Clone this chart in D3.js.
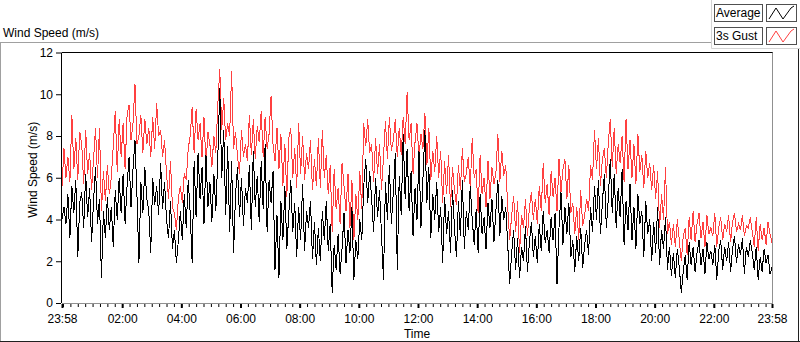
<!DOCTYPE html>
<html>
<head>
<meta charset="utf-8">
<script src="https://cdn.jsdelivr.net/npm/d3@7"></script>
<style>
  body { margin: 0; background: #fff; }
  svg text { font-family: "Liberation Sans", Arial, sans-serif; font-size: 12px; fill: #000; }
</style>
</head>
<body>
<div id="chart"></div>
<script>
// series, one value every 4 minutes from 23:58 to 23:58 next day
const avg = [
  4.0, 4.6, 3.8, 5.2, 3.1, 5.6, 4.3, 5.9, 2.2, 4.8,
  5.3, 3.6, 6.2, 4.1, 5.5, 2.9, 4.9, 6.5, 3.8, 5.0,
  1.2, 4.4, 3.1, 5.1, 3.5, 4.6, 2.7, 5.4, 4.0, 6.0,
  4.3, 6.2, 3.8, 5.6, 7.0, 4.6, 6.4, 7.8, 5.2, 1.9,
  5.8, 4.3, 6.5, 5.0, 4.4, 2.4, 6.0, 4.7, 5.6, 4.2,
  6.7, 4.5, 5.8, 4.0, 3.1, 4.9, 2.6, 3.5, 1.9, 3.0,
  4.4, 3.0, 5.2, 3.6, 5.9, 4.3, 1.9, 6.8, 4.1, 7.2,
  5.0, 6.5, 3.8, 7.1, 4.6, 5.8, 3.9, 6.2, 4.4, 7.0,
  10.3, 6.0, 8.3, 4.2, 7.5, 3.4, 6.8, 2.4, 5.2, 6.5,
  4.1, 6.0, 3.7, 5.5, 4.8, 6.6, 3.5, 7.3, 4.6, 6.1,
  3.9, 6.8, 4.5, 7.6, 3.4, 5.9, 4.8, 6.3, 1.6, 4.2,
  1.2, 4.9, 3.0, 5.6, 2.6, 4.3, 5.9, 3.4, 4.8, 2.2,
  4.6, 3.0, 5.7, 2.5, 4.4, 3.6, 4.9, 2.1, 3.9, 1.8,
  3.6, 2.0, 4.4, 3.0, 4.9, 2.5, 3.8, 0.5, 2.8, 1.6,
  3.3, 1.4, 2.6, 4.3, 1.9, 3.5, 2.4, 4.6, 1.1, 3.0,
  2.1, 4.0, 3.0, 5.6, 6.9, 4.8, 6.3, 5.0, 3.4, 6.0,
  4.1, 5.4, 3.3, 1.1, 5.8, 4.0, 6.6, 3.8, 5.3, 7.2,
  1.6, 6.1, 4.2, 8.1, 5.0, 7.4, 4.4, 6.3, 3.2, 5.5,
  4.0, 7.3, 3.6, 5.9, 8.3, 4.8, 6.5, 3.1, 5.2, 4.0,
  5.8, 3.4, 4.6, 1.9, 5.1, 3.3, 4.4, 2.4, 5.4, 3.6,
  2.2, 4.9, 3.2, 5.9, 2.6, 4.4, 3.5, 5.6, 4.0, 2.8,
  4.5, 2.4, 5.2, 3.3, 4.1, 2.6, 4.8, 3.6, 5.0, 2.9,
  4.4, 5.9, 3.2, 5.1, 4.0, 4.6, 2.8, 0.9, 2.4, 3.5,
  1.6, 3.1, 1.2, 2.7, 2.0, 3.7, 1.5, 2.9, 3.9, 2.2,
  3.2, 1.9, 3.8, 2.5, 4.4, 2.9, 3.5, 2.4, 4.1, 3.0,
  4.3, 0.9, 3.6, 5.3, 2.8, 4.6, 3.3, 4.8, 2.2, 3.0,
  1.5, 3.2, 2.0, 3.6, 1.7, 2.8, 3.5, 2.3, 4.6, 3.4,
  5.6, 4.0, 5.9, 3.3, 4.8, 6.2, 3.6, 5.0, 6.9, 4.3,
  6.2, 3.6, 5.5, 4.1, 6.4, 2.8, 4.9, 3.5, 5.7, 3.0,
  4.6, 2.6, 5.2, 3.8, 4.4, 2.2, 4.9, 3.3, 4.0, 2.0,
  3.9, 2.4, 4.6, 1.8, 3.5, 2.6, 4.1, 1.6, 2.7, 1.3,
  2.4, 1.2, 2.6, 1.7, 0.5, 1.5, 2.3, 1.1, 2.9, 1.8,
  2.7, 1.5, 2.4, 3.0, 1.8, 2.6, 1.4, 2.9, 2.1, 2.5,
  1.8, 2.8, 1.1, 2.5, 3.0, 1.6, 2.7, 2.0, 2.9, 1.5,
  2.6, 3.2, 1.9, 2.8, 2.3, 3.1, 1.4, 2.7, 2.2, 3.0,
  2.4, 1.6, 2.7, 1.1, 2.2, 1.5, 2.6, 1.9, 2.3, 1.4,
  1.7
];

const gust = [
  5.6, 7.4, 6.0, 7.0, 5.8, 9.0, 6.4, 7.9, 5.9, 8.2,
  7.6, 5.7, 8.3, 6.2, 7.2, 5.4, 6.9, 8.4, 6.0, 8.4,
  4.4, 6.3, 4.9, 6.6, 5.2, 6.0, 7.5, 9.2, 6.3, 8.8,
  7.0, 8.6, 6.4, 9.0, 9.5, 7.8, 8.6, 10.5, 7.6, 8.0,
  9.0, 7.2, 8.8, 7.6, 8.4, 7.0, 8.9, 7.4, 9.6, 8.0,
  8.3, 7.0, 7.8, 6.2, 5.0, 6.8, 4.6, 4.3, 3.5, 5.0,
  5.6, 4.8, 6.2, 5.9, 7.4, 8.0, 9.4, 7.2, 9.3, 7.8,
  8.6, 7.0, 8.9, 6.6, 8.2, 7.6, 6.5, 8.0, 7.2, 9.5,
  11.2, 8.3, 9.8, 7.8, 8.6, 8.0, 11.1, 7.4, 8.2, 7.0,
  6.2, 8.3, 7.0, 7.6, 6.8, 9.0, 7.1, 8.8, 6.9, 8.5,
  7.7, 9.2, 7.0, 8.9, 7.4, 8.1, 9.9, 7.6, 6.8, 8.4,
  6.4, 8.1, 5.6, 7.6, 5.1, 7.9, 8.4, 6.0, 7.4, 5.5,
  8.6, 6.2, 8.0, 5.9, 7.2, 6.4, 7.8, 5.4, 6.9, 5.6,
  7.9, 5.5, 8.3, 6.0, 7.1, 5.2, 6.6, 3.4, 6.4, 4.5,
  5.5, 3.8, 6.7, 5.6, 4.4, 6.2, 3.6, 5.9, 3.0, 5.2,
  4.0, 6.3, 4.5, 8.6, 7.5, 8.8, 7.2, 7.6, 5.8, 7.9,
  6.2, 7.6, 5.4, 7.0, 8.7, 6.9, 8.9, 7.3, 7.8, 8.8,
  7.0, 8.4, 7.1, 8.9, 7.6, 10.1, 7.8, 8.6, 6.2, 7.7,
  8.6, 7.0, 8.1, 7.4, 9.1, 6.6, 8.4, 5.9, 7.3, 6.3,
  8.0, 6.0, 7.3, 4.8, 6.8, 5.2, 7.1, 4.6, 6.5, 5.4,
  4.7, 6.6, 5.4, 7.4, 5.8, 6.2, 7.0, 5.5, 7.9, 6.0,
  6.4, 4.3, 7.1, 5.2, 6.0, 4.6, 6.8, 5.0, 6.5, 5.7,
  6.2, 8.1, 5.8, 7.3, 6.1, 6.6, 4.6, 3.0, 4.2, 5.1,
  3.4, 4.9, 2.4, 4.2, 3.6, 5.0, 3.2, 4.6, 5.3, 4.0,
  5.0, 3.8, 5.6, 4.4, 6.7, 4.8, 5.7, 4.2, 6.3, 5.1,
  6.0, 4.4, 6.9, 5.3, 6.4, 6.9, 5.0, 6.6, 4.3, 4.8,
  3.3, 4.6, 3.0, 5.4, 3.7, 4.2, 5.0, 4.4, 6.6, 5.9,
  8.3, 6.4, 7.9, 5.6, 6.9, 7.4, 6.0, 7.7, 8.8, 6.5,
  8.4, 6.2, 7.6, 6.7, 8.0, 5.8, 8.8, 6.4, 7.8, 6.0,
  7.6, 5.7, 8.1, 6.3, 7.1, 5.5, 7.3, 6.0, 6.7, 5.4,
  6.6, 5.0, 6.3, 3.6, 5.2, 4.0, 6.5, 3.3, 3.9, 2.8,
  3.8, 2.7, 4.0, 3.0, 2.0, 3.2, 3.6, 2.3, 4.1, 3.0,
  4.4, 2.9, 3.8, 4.3, 3.1, 3.9, 2.7, 4.2, 3.3, 3.6,
  3.2, 4.3, 2.7, 3.6, 4.1, 3.0, 3.8, 3.4, 4.2, 2.9,
  3.9, 4.3, 3.4, 3.8, 3.5, 4.2, 3.2, 3.7, 3.6, 4.1,
  3.4, 2.7, 4.1, 2.5, 3.8, 3.0, 3.6, 2.8, 3.9, 3.3,
  2.9
];

const yTicks = [0, 2, 4, 6, 8, 10, 12];
const legendNames = ['Average', '3s Gust'];
const seriesColors = ['#000000', '#ff4040'];

const startTime = new Date(2015, 0, 1, 23, 58);
const endTime = new Date(2015, 0, 2, 23, 58);
const stepMinutes = 4;

const W = 800, H = 342;
const plot = {left: 62, right: 772, top: 52.5, bottom: 303};

const svg = d3.select('#chart').append('svg')
  .attr('width', W)
  .attr('height', H);

const x = d3.scaleTime().domain([startTime, endTime]).range([plot.left, plot.right]);
const y = d3.scaleLinear().domain([0, 12]).range([plot.bottom, plot.top]);

const timeAt = (i) => d3.timeMinute.offset(startTime, i * stepMinutes);

// outer panel frame
svg.append('line').attr('x1', 0).attr('x2', 712).attr('y1', 42.5).attr('y2', 42.5).attr('stroke', '#a0a0a0');
svg.append('line').attr('x1', 0.5).attr('x2', 0.5).attr('y1', 42).attr('y2', H).attr('stroke', '#a0a0a0');
svg.append('line').attr('x1', 0).attr('x2', W).attr('y1', 341.5).attr('y2', 341.5).attr('stroke', '#202020');
svg.append('line').attr('x1', 798.5).attr('x2', 798.5).attr('y1', 49).attr('y2', H).attr('stroke', '#202020');
// legend panel edge
svg.append('line').attr('x1', 711.5).attr('x2', 711.5).attr('y1', 0).attr('y2', 48.5).attr('stroke', '#d4d4d4');
svg.append('line').attr('x1', 711.5).attr('x2', W).attr('y1', 48.5).attr('y2', 48.5).attr('stroke', '#d4d4d4');

svg.append('text').attr('x', 3).attr('y', 37).text('Wind Speed (m/s)');

// clip for the plot
svg.append('defs').append('clipPath').attr('id', 'clip')
  .append('rect')
  .attr('x', plot.left).attr('y', plot.top)
  .attr('width', plot.right - plot.left).attr('height', plot.bottom - plot.top);

const line = d3.line()
  .x((d, i) => x(timeAt(i)))
  .y((d) => y(d));

// LabVIEW draws aliased 1px lines
const g = svg.append('g').attr('clip-path', 'url(#clip)');
g.append('path').datum(gust)
  .attr('d', line)
  .attr('fill', 'none')
  .attr('stroke', seriesColors[1])
  .attr('stroke-width', 1)
  .attr('shape-rendering', 'crispEdges');
g.append('path').datum(avg)
  .attr('d', line)
  .attr('fill', 'none')
  .attr('stroke', seriesColors[0])
  .attr('stroke-width', 1)
  .attr('shape-rendering', 'crispEdges');

// plot frame: dark top/left, grey right/bottom
svg.append('line').attr('x1', plot.left).attr('x2', plot.right + 1).attr('y1', plot.top).attr('y2', plot.top).attr('stroke', '#000');
svg.append('line').attr('x1', plot.left - 0.5).attr('x2', plot.left - 0.5).attr('y1', plot.top).attr('y2', plot.bottom).attr('stroke', '#000');
svg.append('line').attr('x1', plot.right + 0.5).attr('x2', plot.right + 0.5).attr('y1', plot.top).attr('y2', plot.bottom + 1).attr('stroke', '#909090');
svg.append('line').attr('x1', plot.left).attr('x2', plot.right + 1).attr('y1', plot.bottom + 0.5).attr('y2', plot.bottom + 0.5).attr('stroke', '#909090');

// y axis
const yAxis = svg.append('g')
  .attr('transform', `translate(${plot.left - 1},0)`)
  .call(d3.axisLeft(y).tickValues(yTicks).tickSize(5).tickPadding(3).tickFormat(d3.format('d')));
yAxis.select('.domain').remove();
yAxis.selectAll('text').style('font-family', '"Liberation Sans", Arial, sans-serif').style('font-size', '12px').attr('fill', '#000');

svg.append('text')
  .attr('transform', `translate(37,${(plot.top + plot.bottom) / 2 - 8}) rotate(-90)`)
  .attr('text-anchor', 'middle')
  .text('Wind Speed (m/s)');

// x axis: minor quarter-hour ticks, then labelled majors
const minorTicks = d3.timeMinute.every(15).range(new Date(2015, 0, 2, 0, 0), endTime);
const majorTicks = [startTime].concat(d3.timeHour.every(2).range(new Date(2015, 0, 2, 2, 0), endTime), [endTime]);

const xMinor = svg.append('g')
  .attr('transform', `translate(0,${plot.bottom + 1})`)
  .call(d3.axisBottom(x).tickValues(minorTicks).tickSize(3).tickFormat(''));
xMinor.select('.domain').remove();

const xMajor = svg.append('g')
  .attr('transform', `translate(0,${plot.bottom + 1})`)
  .call(d3.axisBottom(x).tickValues(majorTicks).tickSize(4).tickPadding(6).tickFormat(d3.timeFormat('%H:%M')));
xMajor.select('.domain').remove();
xMajor.selectAll('line').attr('stroke-width', 2);
xMajor.selectAll('text').style('font-family', '"Liberation Sans", Arial, sans-serif').style('font-size', '12px').attr('fill', '#000');

svg.append('text')
  .attr('x', (plot.left + plot.right) / 2)
  .attr('y', 338)
  .attr('text-anchor', 'middle')
  .text('Time');

// legend
const legend = svg.append('g').selectAll('g')
  .data(legendNames)
  .enter()
  .append('g')
  .attr('transform', (d, i) => `translate(0,${4 + i * 23})`);

legend.append('rect')
  .attr('x', 714.5).attr('y', 0.5)
  .attr('width', 48).attr('height', 17)
  .attr('fill', '#fff').attr('stroke', '#505050');
legend.append('text')
  .attr('x', 716).attr('y', 13)
  .text((d) => d);
legend.append('rect')
  .attr('x', 766.5).attr('y', 0.5)
  .attr('width', 30).attr('height', 17)
  .attr('fill', '#fff').attr('stroke', '#505050');
legend.append('path')
  .attr('d', 'M769,15 L776,4 L783,15 L791,4 L794,2')
  .attr('fill', 'none')
  .attr('stroke', (d, i) => seriesColors[i]);
</script>
</body>
</html>
